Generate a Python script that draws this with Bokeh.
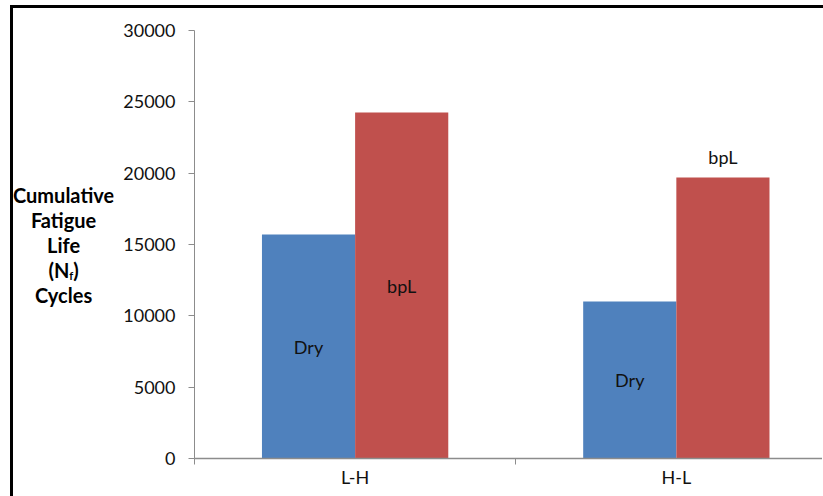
from bokeh.plotting import figure
from bokeh.models import Range1d, FixedTicker, ColumnDataSource, Div
from bokeh.layouts import row, column
from bokeh.embed import file_html
from bokeh.resources import INLINE
from bokeh.core.properties import value

# ---- data ----
categories = ["L-H", "H-L"]
series_names = ["Dry", "bpL"]
dry = [15700, 11000]
bpl = [24250, 19700]
y_ticks = [0, 5000, 10000, 15000, 20000, 25000, 30000]
y_title_lines = ["Cumulative", "Fatigue", "Life", "(N<sub>f</sub>)", "Cycles"]

BLUE = "#4F81BD"
RED = "#C0504D"
FONT = "Lato"
AXIS_COLOR = "#8c8c8c"
TEXT_COLOR = "#111111"

TITLE_W = 100
FIG_W = 709
p = figure(width=FIG_W, height=484, output_backend="svg", toolbar_location=None,
           x_range=Range1d(0, 1.955), y_range=Range1d(0, 30000),
           min_border_left=81, min_border_right=0, min_border_top=22,
           min_border_bottom=34, margin=0)
p.outline_line_color = None
p.grid.visible = False
p.background_fill_color = "white"
p.border_fill_color = "white"

n = len(categories)
bw = 0.29
dry_x = [i + 0.5 - bw / 2 for i in range(n)]
bpl_x = [i + 0.5 + bw / 2 for i in range(n)]
p.vbar(x=dry_x, top=dry, width=bw, fill_color=BLUE, line_color=None)
p.vbar(x=bpl_x, top=bpl, width=bw, fill_color=RED, line_color=None)

# data labels (as placed in the original)
lab_x = dry_x + bpl_x
lab_y = [v / 2 for v in dry] + [bpl[0] / 2, bpl[1] + 1450]
lab_t = [series_names[0]] * n + [series_names[1]] * n
src = ColumnDataSource(dict(x=lab_x, y=lab_y, t=lab_t))
p.text(x="x", y="y", text="t", source=src, text_font=value(FONT),
       text_font_size=value("18px"), text_color=TEXT_COLOR,
       text_align="center", text_baseline="middle")

# y axis
ya = p.yaxis[0]
ya.ticker = FixedTicker(ticks=y_ticks)
ya.axis_line_color = AXIS_COLOR
ya.major_tick_line_color = AXIS_COLOR
ya.major_tick_out = 6
ya.major_tick_in = 0
ya.minor_tick_line_color = None
ya.major_label_text_font = FONT
ya.major_label_text_font_size = "18px"
ya.major_label_text_color = TEXT_COLOR
ya.major_label_standoff = 13

# x axis
xa = p.xaxis[0]
xa.ticker = FixedTicker(ticks=[i + 0.5 for i in range(n)], minor_ticks=list(range(n + 1)))
xa.major_label_overrides = {i + 0.5: c for i, c in enumerate(categories)}
xa.axis_line_color = AXIS_COLOR
xa.axis_line_width = 1.5
xa.major_tick_out = 0
xa.major_tick_in = 0
xa.minor_tick_out = 6
xa.minor_tick_in = 0
xa.minor_tick_line_color = AXIS_COLOR
xa.major_label_text_font = FONT
xa.major_label_text_font_size = "18px"
xa.major_label_text_color = TEXT_COLOR
xa.major_label_standoff = 1

# horizontal multi-line y-axis title, left of the plot
title_html = (
    '<div style="font-family: Lato, sans-serif; font-weight: bold; font-size: 20px; '
    'line-height: 25px; text-align: center; color: black; padding-top: 175px;">'
    + "<br>".join(y_title_lines).replace(
        "<sub>", '<sub style="font-size: 11px; line-height: 0; vertical-align: -2px;">')
    + "</div>"
)
title_div = Div(text=title_html, width=TITLE_W, height=484, margin=0)

# black frame lines (left and top) of the original picture
top_bar = Div(text="", width=813, height=3, margin=(5, 0, 0, 10),
              styles={"background-color": "black"})
left_bar = Div(text="", width=3, height=488, margin=(0, 0, 0, 10),
               styles={"background-color": "black"})

layout = column(top_bar, row(left_bar, title_div, p, spacing=0, margin=0), spacing=0, margin=0)

open("out.html", "w").write(file_html(layout, INLINE))
